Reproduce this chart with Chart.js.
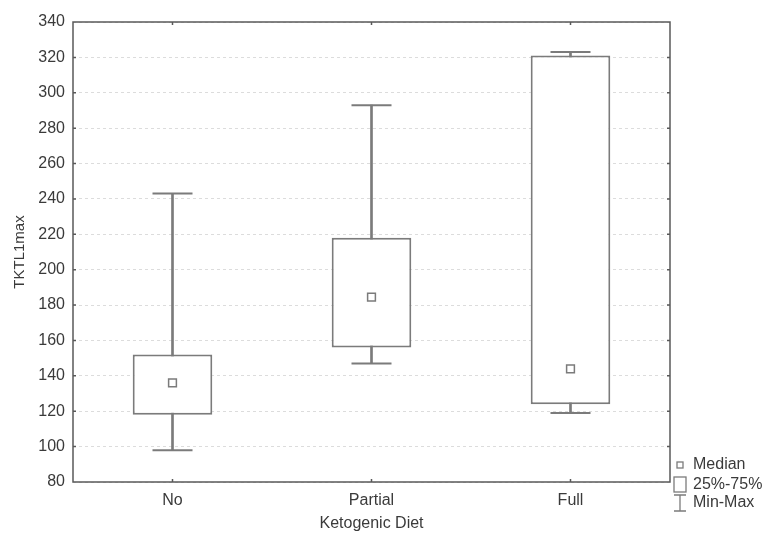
<!DOCTYPE html>
<html>
<head>
<meta charset="utf-8">
<script src="https://cdn.jsdelivr.net/npm/chart.js@4.4.1/dist/chart.umd.min.js"></script>
<style>
  html, body { margin: 0; padding: 0; background: #fff; }
  #wrap { width: 763px; height: 534px; }
</style>
</head>
<body>
<div id="wrap"><canvas id="chart" width="763" height="534"></canvas></div>
<script>
// Box plot values
const categories = ['No', 'Partial', 'Full'];
const minValues = [98, 147, 119];
const q1Values = [118, 156, 124];
const medianValues = [136, 184.5, 144];
const q3Values = [152, 218, 321];
const maxValues = [243, 293, 323];

// Axis
const yMin = 80;
const yMax = 340;
const yStep = 20;

// Legend entries
const legendLabels = ['Median', '25%-75%', 'Min-Max'];

const lineColor = '#7b7b7b';
const frameColor = '#595959';
const textColor = '#3a3a3a';
const fontFamily = '"Liberation Sans", Arial, sans-serif';

// Frame, inside ticks and the legend
const framePlugin = {
    id: 'frame',
    afterDraw(chart) {
        const ctx = chart.ctx;
        const area = chart.chartArea;
        const xScale = chart.scales.x;
        const yScale = chart.scales.y;
        ctx.save();
        ctx.strokeStyle = frameColor;
        ctx.lineWidth = 1.5;
        ctx.strokeRect(area.left, area.top, area.right - area.left, area.bottom - area.top);

        // Small tick marks pointing inwards
        ctx.beginPath();
        categories.forEach((c, i) => {
            const x = xScale.getPixelForValue(i);
            ctx.moveTo(x, area.top);
            ctx.lineTo(x, area.top + 3);
            ctx.moveTo(x, area.bottom);
            ctx.lineTo(x, area.bottom - 3);
        });
        for (let v = yMin + yStep; v < yMax; v += yStep) {
            const y = yScale.getPixelForValue(v);
            ctx.moveTo(area.left, y);
            ctx.lineTo(area.left + 3, y);
            ctx.moveTo(area.right, y);
            ctx.lineTo(area.right - 3, y);
        }
        ctx.stroke();

        // Legend in the bottom right corner
        const lx = area.right + 10;
        const tx = area.right + 23;
        ctx.strokeStyle = lineColor;
        ctx.lineWidth = 1.3;
        // Median marker
        ctx.strokeRect(lx - 3, area.bottom - 20, 6, 6);
        // 25%-75% box
        ctx.strokeRect(lx - 6, area.bottom - 5, 12, 15);
        // Min-Max whisker
        ctx.beginPath();
        ctx.moveTo(lx - 6, area.bottom + 13);
        ctx.lineTo(lx + 6, area.bottom + 13);
        ctx.moveTo(lx, area.bottom + 13);
        ctx.lineTo(lx, area.bottom + 29);
        ctx.moveTo(lx - 6, area.bottom + 29);
        ctx.lineTo(lx + 6, area.bottom + 29);
        ctx.stroke();

        ctx.fillStyle = textColor;
        ctx.font = '16px ' + fontFamily;
        ctx.textBaseline = 'middle';
        ctx.textAlign = 'left';
        ctx.fillText(legendLabels[0], tx, area.bottom - 17);
        ctx.fillText(legendLabels[1], tx, area.bottom + 3);
        ctx.fillText(legendLabels[2], tx, area.bottom + 21);
        ctx.restore();
    }
};

const ctx = document.getElementById('chart').getContext('2d');
new Chart(ctx, {
    data: {
        labels: categories,
        datasets: [{
            type: 'line',
            label: 'Median',
            data: medianValues,
            showLine: false,
            pointStyle: 'rect',
            pointRadius: 5.5,
            pointBorderWidth: 1.5,
            pointBackgroundColor: '#fff',
            pointBorderColor: lineColor,
            order: 0
        }, {
            type: 'line',
            label: 'Max',
            data: maxValues,
            showLine: false,
            pointStyle: 'line',
            pointRadius: 20,
            pointBorderWidth: 2,
            pointBorderColor: lineColor,
            order: 1
        }, {
            type: 'line',
            label: 'Min',
            data: minValues,
            showLine: false,
            pointStyle: 'line',
            pointRadius: 20,
            pointBorderWidth: 2,
            pointBorderColor: lineColor,
            order: 1
        }, {
            type: 'bar',
            label: '25%-75%',
            data: categories.map((c, i) => [q1Values[i], q3Values[i]]),
            backgroundColor: '#fff',
            borderColor: lineColor,
            borderWidth: 2,
            borderSkipped: false,
            barPercentage: 0.4,
            categoryPercentage: 1,
            grouped: false,
            order: 2
        }, {
            type: 'bar',
            label: 'Min-Max',
            data: categories.map((c, i) => [minValues[i], maxValues[i]]),
            backgroundColor: lineColor,
            borderWidth: 0,
            barThickness: 2,
            grouped: false,
            order: 3
        }]
    },
    options: {
        responsive: false,
        animation: false,
        events: [],
        layout: {
            padding: { top: 22, right: 93, bottom: 0, left: 0 }
        },
        scales: {
            x: {
                offset: true,
                grid: { display: false, drawTicks: false },
                border: { display: false },
                ticks: {
                    color: textColor,
                    font: { family: fontFamily, size: 16 },
                    padding: 9
                },
                title: {
                    display: true,
                    text: 'Ketogenic Diet',
                    color: textColor,
                    font: { family: fontFamily, size: 16 },
                    padding: { top: 0, bottom: 1 }
                },
                afterFit(scale) { scale.height = 52; }
            },
            y: {
                min: yMin,
                max: yMax,
                grid: {
                    color: '#dcdcdc',
                    lineWidth: 1,
                    drawTicks: false
                },
                border: { display: false, dash: [3, 3] },
                ticks: {
                    stepSize: yStep,
                    color: textColor,
                    font: { family: fontFamily, size: 16 },
                    padding: 8
                },
                title: {
                    display: true,
                    text: 'TKTL1max',
                    color: textColor,
                    font: { family: fontFamily, size: 15 },
                    padding: { top: 11, bottom: 0 }
                },
                afterFit(scale) { scale.width = 73; }
            }
        },
        plugins: {
            legend: { display: false },
            tooltip: { enabled: false }
        }
    },
    plugins: [framePlugin]
});
</script>
</body>
</html>
